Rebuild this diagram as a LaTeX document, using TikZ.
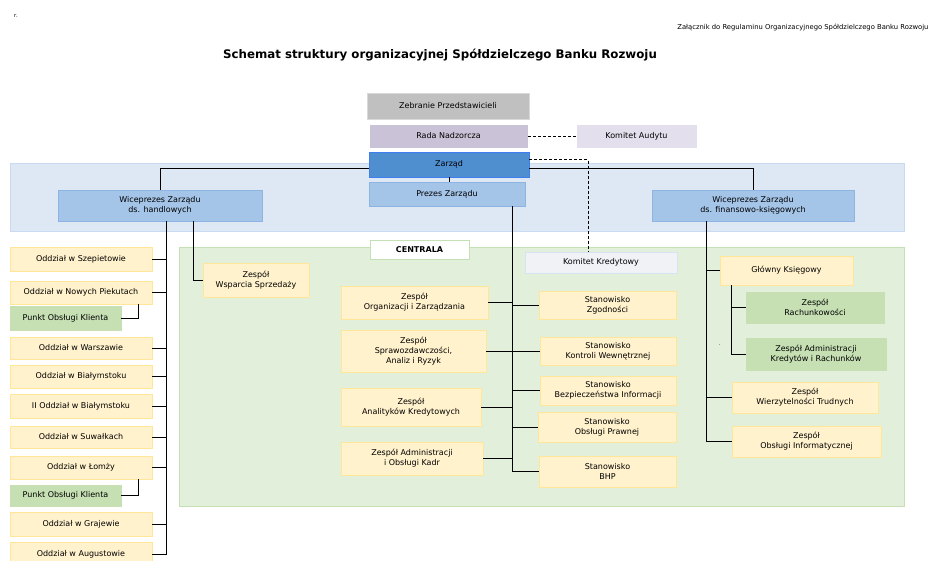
\documentclass[tikz,border=0pt]{standalone}
\usepackage{fontspec}
\setmainfont{DejaVu Sans}
\definecolor{zolty}{HTML}{FFF2CC}
\definecolor{zoltyB}{HTML}{FFE699}
\definecolor{zielony}{HTML}{C6E0B4}
\definecolor{zielonyB}{HTML}{C5E0B4}
\definecolor{tlo}{HTML}{E2EFDA}
\definecolor{pasek}{HTML}{DEE8F4}
\definecolor{pasekB}{HTML}{C9DBF0}
\definecolor{niebJ}{HTML}{A4C4E8}
\definecolor{niebB}{HTML}{8DB4E2}
\definecolor{zarzad}{HTML}{4F8FD0}
\definecolor{zarzadB}{HTML}{3D7FF0}
\definecolor{szary}{HTML}{C0C0C0}
\definecolor{szaryB}{HTML}{D9D9D9}
\definecolor{rada}{HTML}{CAC2D6}
\definecolor{audyt}{HTML}{E4DFEC}
\definecolor{kkF}{HTML}{F0F2F6}
\definecolor{kkB}{HTML}{D6E3F2}
\begin{document}
\begin{tikzpicture}[x=1pt,y=-1pt,
			font=\fontsize{8}{10}\selectfont,
			ramka/.style={draw,inner sep=1pt,align=center},
			oddzial/.style={ramka,fill=zolty,draw=zoltyB,minimum width=142pt},
			zolta/.style={ramka,fill=zolty,draw=zoltyB},
			punkt/.style={ramka,fill=zielony,draw=zielony},
			wice/.style={ramka,fill=niebJ,draw=niebB,minimum height=31pt},
			linia/.style={line width=1pt},
			przer/.style={line width=1pt,dash pattern=on 3pt off 2pt}]
\useasboundingbox (0,0) rectangle (929,560);
% tla
\draw[draw=pasekB,fill=pasek] (10,163) rectangle (904,231);
\draw[draw=zielonyB,fill=tlo,line width=1pt] (179,247) rectangle (904,506);

\node[font=\fontsize{5.5}{6}\selectfont] (r) at (16,16) {r.};
\node[anchor=east,font=\fontsize{6.8}{8}\selectfont] (zal) at (932,27) {Załącznik do Regulaminu Organizacyjnego Spółdzielczego Banku Rozwoju};
\node[font=\bfseries\fontsize{11.8}{14}\selectfont] (tyt) at (440,55) {Schemat struktury organizacyjnej Spółdzielczego Banku Rozwoju};

\node[ramka,fill=szary,draw=szaryB,minimum width=162pt,minimum height=26pt] (zeb) at (448,106) {Zebranie Przedstawicieli};
\node[ramka,fill=rada,draw=white,minimum width=159pt,minimum height=24pt] (rad) at (448.5,136) {Rada Nadzorcza};
\node[ramka,fill=audyt,draw=white,minimum width=121pt,minimum height=24pt] (aud) at (636.5,136) {Komitet Audytu};
\node[ramka,fill=zarzad,draw=zarzadB,minimum width=160pt,minimum height=25pt] (zar) at (449,164.5) {Zarząd};
\node[ramka,fill=niebJ,draw=niebB,minimum width=156pt,minimum height=24pt] (pre) at (447,194) {Prezes Zarządu};
\node[wice,minimum width=204pt] (wh) at (160,205.5) {Wiceprezes Zarządu\\ds. handlowych};
\node[wice,minimum width=202pt] (wf) at (753,205.5) {Wiceprezes Zarządu\\ds. finansowo-księgowych};

% oddzialy
\node[oddzial,minimum height=24pt] (sze) at (81,259) {Oddział w Szepietowie};
\node[oddzial,minimum height=23pt] (pie) at (81,292.5) {Oddział w Nowych Piekutach};
\node[punkt,minimum width=111pt,minimum height=24pt] (pok1) at (65.5,318) {Punkt Obsługi Klienta};
\node[oddzial,minimum height=22pt] (war) at (81,348) {Oddział w Warszawie};
\node[oddzial,minimum height=23pt] (bia) at (81,376.5) {Oddział w Białymstoku};
\node[oddzial,minimum height=24pt] (bia2) at (81,406) {II Oddział w Białymstoku};
\node[oddzial,minimum height=22pt] (suw) at (81,437) {Oddział w Suwałkach};
\node[oddzial,minimum height=23pt] (lom) at (81,467.5) {Oddział w Łomży};
\node[punkt,minimum width=111pt,minimum height=21pt] (pok2) at (65.5,495.5) {Punkt Obsługi Klienta};
\node[oddzial,minimum height=24pt] (gra) at (81,524) {Oddział w Grajewie};
\node[oddzial,minimum height=24pt] (aug) at (81,554) {Oddział w Augustowie};

% centrala
\node[ramka,fill=white,draw=zielonyB,line width=1pt,minimum width=99pt,minimum height=19pt,font=\bfseries\fontsize{8}{10}\selectfont] (cen) at (419.5,249.5) {CENTRALA};
\node[zolta,minimum width=106pt,minimum height=34pt] (wsp) at (256,280) {Zespół\\Wsparcia Sprzedaży};
\node[zolta,minimum width=147pt,minimum height=33pt] (org) at (414.5,302.5) {Zespół\\Organizacji i Zarządzania};
\node[zolta,minimum width=145pt,minimum height=42pt] (spr) at (413.5,351) {Zespół\\Sprawozdawczości,\\Analiz i Ryzyk};
\node[zolta,minimum width=140pt,minimum height=38pt] (ana) at (411,407) {Zespół\\Analityków Kredytowych};
\node[zolta,minimum width=142pt,minimum height=33pt] (adm) at (412,458.5) {Zespół Administracji\\i Obsługi Kadr};
\node[ramka,fill=kkF,draw=kkB,minimum width=152pt,minimum height=21pt] (kk) at (601,262.5) {Komitet Kredytowy};
\node[zolta,minimum width=137pt,minimum height=28pt] (zgo) at (607.5,305) {Stanowisko\\Zgodności};
\node[zolta,minimum width=136pt,minimum height=28pt] (kon) at (608,351) {Stanowisko\\Kontroli Wewnętrznej};
\node[zolta,minimum width=136pt,minimum height=29pt] (bez) at (608,390.5) {Stanowisko\\Bezpieczeństwa Informacji};
\node[zolta,minimum width=138pt,minimum height=30pt] (pra) at (607,427) {Stanowisko\\Obsługi Prawnej};
\node[zolta,minimum width=137pt,minimum height=31pt] (bhp) at (607.5,471.5) {Stanowisko\\BHP};
\node[zolta,minimum width=133pt,minimum height=29pt] (gk) at (786.5,270.5) {Główny Księgowy};
\node[punkt,minimum width=138pt,minimum height=31pt] (rach) at (815,307.5) {Zespół\\Rachunkowości};
\node[punkt,minimum width=140pt,minimum height=32pt] (akr) at (816,354) {Zespół Administracji\\Kredytów i Rachunków};
\node[zolta,minimum width=146pt,minimum height=31pt] (wie) at (805,397.5) {Zespół\\Wierzytelności Trudnych};
\node[zolta,minimum width=149pt,minimum height=31pt] (inf) at (806.5,441.5) {Zespół\\Obsługi Informatycznej};
\node[font=\fontsize{5}{6}\selectfont] (kropka) at (720,345) {.};

% polaczenia
\draw[linia] ([yshift=-3.5pt]zar.west) -| (wh.north);
\draw[linia] ([yshift=-3.5pt]zar.east) -| (wf.north);
\draw[linia] (zar.south) -- (zar.south |- pre.north);
\draw[przer] (rad.east) -- (aud.west);
\draw[przer] ([yshift=5pt]zar.east) -| ([xshift=-13pt]kk.north);

\coordinate (busL) at ([xshift=6pt]wh.south);
\draw[linia] (busL) |- (aug.east);
\foreach \wezel in {sze,pie,war,bia,bia2,suw,lom,gra}
	\draw[linia] (\wezel.east) -- (\wezel.east -| busL);
\draw[linia] ([xshift=-14pt]pie.south east) |- (pok1.east);
\draw[linia] ([xshift=-14pt]lom.south east) |- (pok2.east);
\draw[linia] ([xshift=33pt]wh.south) |- (wsp.west);

\coordinate (busC) at ([xshift=65pt]pre.south);
\draw[linia] (busC) |- (bhp.west);
\foreach \wezel in {org,spr,ana,adm}
	\draw[linia] (\wezel.east) -- (\wezel.east -| busC);
\foreach \wezel in {zgo,kon,bez,pra}
	\draw[linia] (\wezel.west) -- (\wezel.west -| busC);

\coordinate (busR) at ([xshift=-47pt]wf.south);
\draw[linia] (busR) |- (inf.west);
\foreach \wezel in {gk,wie}
	\draw[linia] (\wezel.west) -- (\wezel.west -| busR);
\coordinate (busG) at ([xshift=12pt]gk.south west);
\draw[linia] (busG) |- (akr.west);
\draw[linia] (rach.west) -- (rach.west -| busG);
\end{tikzpicture}
\end{document}
